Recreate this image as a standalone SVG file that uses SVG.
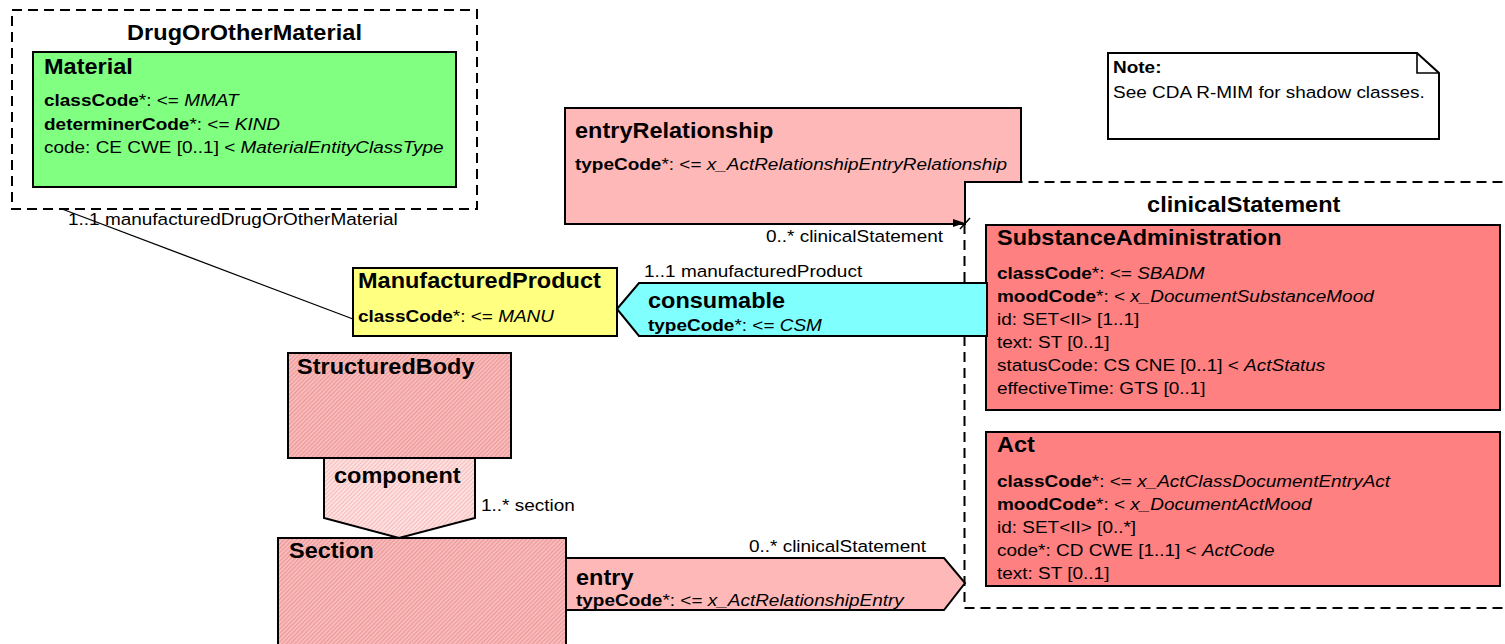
<svg xmlns="http://www.w3.org/2000/svg" width="1505" height="644" viewBox="0 0 1505 644">
<defs>
<style>
text{font-family:"Liberation Sans",Arial,sans-serif;fill:#000}
.t{font-size:21.5px;font-weight:bold}
.a{font-size:16.5px}
.b{font-weight:bold}
.i{font-style:italic}
.box{stroke:#000;stroke-width:2}
.dash{fill:none;stroke:#000;stroke-width:2;stroke-dasharray:10 6}
.ln{fill:none;stroke:#000;stroke-width:1.3}
</style>
<pattern id="hatch" width="3" height="3" patternUnits="userSpaceOnUse" patternTransform="rotate(45)">
<rect width="3" height="3" fill="#FBBCBC"/>
<line x1="0.6" y1="0" x2="0.6" y2="3" stroke="#E89494" stroke-width="1"/>
</pattern>
<pattern id="hatchL" width="3" height="3" patternUnits="userSpaceOnUse" patternTransform="rotate(45)">
<rect width="3" height="3" fill="#FFE2E2"/>
<line x1="0.6" y1="0" x2="0.6" y2="3" stroke="#F4B8B8" stroke-width="1"/>
</pattern>
</defs>
<rect width="1505" height="644" fill="#fff"/>

<g id="DrugOrOtherMaterial">
<rect class="dash" x="12" y="10" width="465" height="199"/>
<text class="t" text-anchor="middle" textLength="215" lengthAdjust="spacing" transform="translate(244.5 40) scale(1.093 1)">DrugOrOtherMaterial</text>
</g>
<g id="Material">
<rect class="box" x="33" y="52" width="423" height="135" fill="#80FF80"/>
<text class="t" transform="translate(44 74) scale(1.093 1)">Material</text>
<text class="a" transform="translate(44 106) scale(1.15 1)"><tspan class="b">classCode</tspan>*: &lt;= <tspan class="i">MMAT</tspan></text>
<text class="a" transform="translate(44 130) scale(1.15 1)"><tspan class="b">determinerCode</tspan>*: &lt;= <tspan class="i">KIND</tspan></text>
<text class="a" transform="translate(44 153) scale(1.15 1)">code: CE CWE [0..1] &lt; <tspan class="i">MaterialEntityClassType</tspan></text>
</g>

<g id="clinicalStatement">
<rect class="dash" x="964.5" y="182" width="560" height="426"/>
<text class="t" text-anchor="middle" transform="translate(1243.7 212) scale(1.093 1)">clinicalStatement</text>
</g>

<g id="entryRelationship">
<polygon class="box" points="565,108 1021,108 1021,182 965,182 965,224 565,224" fill="#FFB8B8"/>
<text class="t" transform="translate(575 138) scale(1.093 1)">entryRelationship</text>
<text class="a" transform="translate(575 170) scale(1.15 1)"><tspan class="b">typeCode</tspan>*: &lt;= <tspan class="i">x_ActRelationshipEntryRelationship</tspan></text>
</g>

<g id="Note">
<polygon class="box" points="1108,53 1417,53 1439,73 1439,139 1108,139" fill="#fff" stroke-width="1.6"/>
<polyline points="1417,53 1417,73 1439,73" fill="none" stroke="#000" stroke-width="1.6"/>
<text class="a b" transform="translate(1113 73) scale(1.15 1)">Note:</text>
<text class="a" transform="translate(1113 97.5) scale(1.15 1)">See CDA R-MIM for shadow classes.</text>
</g>

<g id="SubstanceAdministration">
<rect class="box" x="986" y="225" width="514" height="185" fill="#FF8080"/>
<text class="t" transform="translate(997 245) scale(1.093 1)">SubstanceAdministration</text>
<text class="a" transform="translate(997 278.5) scale(1.15 1)"><tspan class="b">classCode</tspan>*: &lt;= <tspan class="i">SBADM</tspan></text>
<text class="a" transform="translate(997 301.5) scale(1.15 1)"><tspan class="b">moodCode</tspan>*: &lt; <tspan class="i">x_DocumentSubstanceMood</tspan></text>
<text class="a" transform="translate(997 324.5) scale(1.15 1)">id: SET&lt;II&gt; [1..1]</text>
<text class="a" transform="translate(997 347.5) scale(1.15 1)">text: ST [0..1]</text>
<text class="a" transform="translate(997 370.5) scale(1.15 1)">statusCode: CS CNE [0..1] &lt; <tspan class="i">ActStatus</tspan></text>
<text class="a" transform="translate(997 393.5) scale(1.15 1)">effectiveTime: GTS [0..1]</text>
</g>

<g id="Act">
<rect class="box" x="986" y="432" width="514" height="154" fill="#FF8080"/>
<text class="t" transform="translate(997 452) scale(1.093 1)">Act</text>
<text class="a" transform="translate(997 487) scale(1.15 1)"><tspan class="b">classCode</tspan>*: &lt;= <tspan class="i">x_ActClassDocumentEntryAct</tspan></text>
<text class="a" transform="translate(997 510) scale(1.15 1)"><tspan class="b">moodCode</tspan>*: &lt; <tspan class="i">x_DocumentActMood</tspan></text>
<text class="a" transform="translate(997 533) scale(1.15 1)">id: SET&lt;II&gt; [0..*]</text>
<text class="a" transform="translate(997 556) scale(1.15 1)">code*: CD CWE [1..1] &lt; <tspan class="i">ActCode</tspan></text>
<text class="a" transform="translate(997 579) scale(1.15 1)">text: ST [0..1]</text>
</g>

<g id="ManufacturedProduct">
<rect class="box" x="353" y="268" width="264" height="68" fill="#FFFF80"/>
<text class="t" transform="translate(358 288) scale(1.093 1)">ManufacturedProduct</text>
<text class="a" transform="translate(358 322) scale(1.15 1)"><tspan class="b">classCode</tspan>*: &lt;= <tspan class="i">MANU</tspan></text>
</g>

<g id="consumable">
<polygon class="box" points="617,309 639,283 987,283 987,336 639,336" fill="#80FFFF"/>
<text class="t" transform="translate(648 308) scale(1.093 1)">consumable</text>
<text class="a" transform="translate(648 331) scale(1.15 1)"><tspan class="b">typeCode</tspan>*: &lt;= <tspan class="i">CSM</tspan></text>
</g>

<g id="StructuredBody">
<rect class="box" x="288" y="353" width="223" height="105" fill="url(#hatch)"/>
<text class="t" transform="translate(297 374) scale(1.093 1)">StructuredBody</text>
</g>

<g id="component">
<polygon class="box" points="324,458 475,458 475,518 399,538 324,518" fill="url(#hatchL)"/>
<text class="t" transform="translate(334 483) scale(1.093 1)">component</text>
</g>

<g id="Section">
<rect class="box" x="278" y="538" width="288" height="120" fill="url(#hatch)"/>
<text class="t" transform="translate(289 558) scale(1.093 1)">Section</text>
</g>

<g id="entry">
<polygon class="box" points="566,558 944,558 965,583 944,610 566,610" fill="#FFB8B8"/>
<text class="t" transform="translate(576 585) scale(1.093 1)">entry</text>
<text class="a" transform="translate(576 606) scale(1.15 1)"><tspan class="b">typeCode</tspan>*: &lt;= <tspan class="i">x_ActRelationshipEntry</tspan></text>
</g>

<g id="connectors">
<line class="ln" x1="62" y1="209" x2="353" y2="319"/>
<polygon points="953,219 965,223 953,227" fill="#000"/>
<line x1="960" y1="229" x2="970" y2="218" stroke="#000" stroke-width="1.5"/>
<text class="a" transform="translate(68 225) scale(1.15 1)">1..1 manufacturedDrugOrOtherMaterial</text>
<text class="a" text-anchor="end" transform="translate(943 241.5) scale(1.15 1)">0..* clinicalStatement</text>
<text class="a" transform="translate(644 277) scale(1.15 1)">1..1 manufacturedProduct</text>
<text class="a" transform="translate(481 511) scale(1.15 1)">1..* section</text>
<text class="a" text-anchor="end" transform="translate(926 552) scale(1.15 1)">0..* clinicalStatement</text>
</g>
</svg>
